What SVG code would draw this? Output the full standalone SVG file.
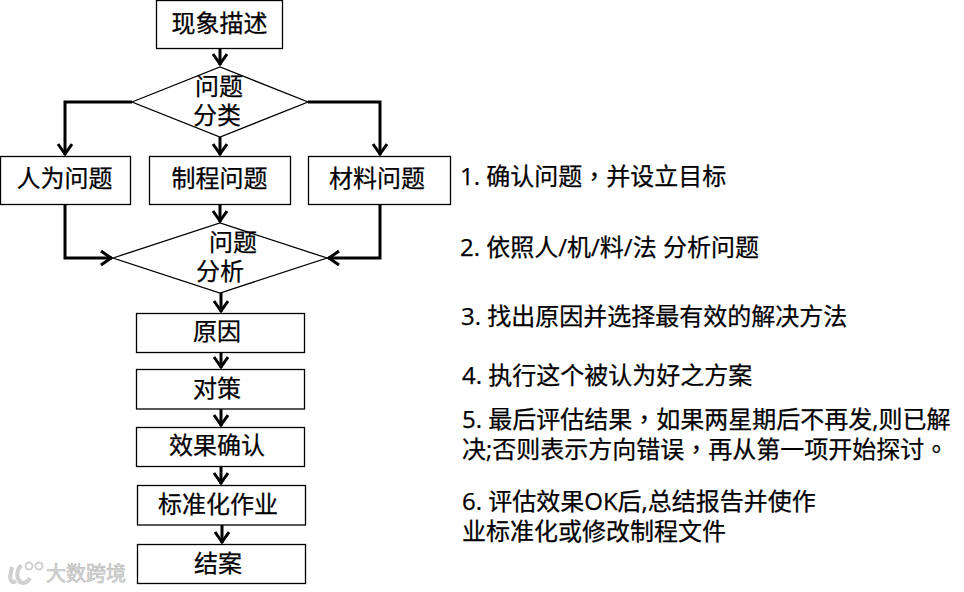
<svg xmlns="http://www.w3.org/2000/svg" width="964" height="592" viewBox="0 0 964 592">
<style>
text{font-family:"Open Sans","Noto Sans CJK SC",sans-serif;font-size:24px;fill:#000;stroke:#000;stroke-width:.25}
.t{font-family:"Noto Sans CJK TC",sans-serif}
.n{fill:#fff;stroke:#000;stroke-width:1.3}
.c{text-anchor:middle}
.k{fill:none;stroke:#000;stroke-width:3}
text.w{font-size:20px;fill:#dadada;stroke:#b8b8b8;stroke-width:.6}
.l{fill:none;stroke:#d0d0d0;stroke-width:4}
</style>
<defs>
<marker id="a" markerUnits="userSpaceOnUse" markerWidth="18" markerHeight="18" refX="14" refY="8" orient="auto">
<path d="M3 1L13 8L3 15" fill="none" stroke="#000" stroke-width="3"/>
</marker>
</defs>
<g id="connectors">
<path class="k" d="M220 48V65" marker-end="url(#a)"/>
<path class="k" d="M132 102H65V155" marker-end="url(#a)"/>
<path class="k" d="M220 137V155" marker-end="url(#a)"/>
<path class="k" d="M308 102H380V155" marker-end="url(#a)"/>
<path class="k" d="M220 205V222" marker-end="url(#a)"/>
<path class="k" d="M65 205V258H112" marker-end="url(#a)"/>
<path class="k" d="M380 205V258H328" marker-end="url(#a)"/>
<path class="k" d="M221 293V312" marker-end="url(#a)"/>
<path class="k" d="M221 352V368" marker-end="url(#a)"/>
<path class="k" d="M221 409V426" marker-end="url(#a)"/>
<path class="k" d="M221 466V484" marker-end="url(#a)"/>
<path class="k" d="M222 525V543" marker-end="url(#a)"/>
</g>
<g id="n1"><rect class="n" x="156.5" y="0.5" width="126" height="48"/><text class="c" x="219.5" y="32">现象描述</text></g>
<g id="n2"><polygon class="n" points="132,102 220,67 308,102 220,137"/><text class="c" x="219" y="95">问题</text><text class="c" x="217" y="124">分类</text></g>
<g id="n3"><rect class="n" x="0.5" y="156.5" width="130" height="48"/><text class="c" x="64.5" y="187">人为问题</text></g>
<g id="n4"><rect class="n" x="149.5" y="156.5" width="141" height="48"/><text class="c" x="219.5" y="187">制程问题</text></g>
<g id="n5"><rect class="n" x="308.5" y="156.5" width="142" height="48"/><text class="c" x="377" y="187">材料问题</text></g>
<g id="n6"><polygon class="n" points="113,258 220,223 327,258 220,293"/><text class="c" x="233" y="251">问题</text><text class="c" x="220" y="280">分析</text></g>
<g id="n7"><rect class="n" x="136.5" y="313.5" width="168" height="39"/><text class="c" x="217" y="340">原因</text></g>
<g id="n8"><rect class="n" x="136.5" y="369.5" width="168" height="39.5"/><text class="c" x="217" y="397">对策</text></g>
<g id="n9"><rect class="n" x="136.5" y="427.5" width="168" height="39"/><text class="c" x="217" y="454">效果确认</text></g>
<g id="n10"><rect class="n" x="137.5" y="485.5" width="168" height="39.5"/><text class="c" x="218" y="513">标准化作业</text></g>
<g id="n11"><rect class="n" x="137.5" y="544.5" width="168" height="39"/><text class="c" x="218" y="572">结案</text></g>
<g id="notes">
<text x="460" y="185">1. 确认问题<tspan class="t">，</tspan>并设立目标</text>
<text x="460" y="256">2. 依照人/机/料/法 分析问题</text>
<text x="461" y="325">3. 找出原因并选择最有效的解决方法</text>
<text x="462" y="384">4. 执行这个被认为好之方案</text>
<text x="462" y="428">5. 最后评估结果<tspan class="t">，</tspan>如果两星期后不再发,则已解</text>
<text x="462" y="458">决;否则表示方向错误<tspan class="t">，</tspan>再从第一项开始探讨<tspan class="t">。</tspan></text>
<text x="462" y="510">6. 评估效果OK后,总结报告并使作</text>
<text x="462" y="540">业标准化或修改制程文件</text>
</g>
<g id="watermark">
<path class="l" d="M12 567L10 577Q11 584 16 581M21 565Q14 574 20 582Q26 585 30 578"/>
<circle class="l" cx="29" cy="566" r="3.5" style="stroke-width:2"/><circle class="l" cx="39" cy="566" r="3.5" style="stroke-width:2"/>
<text class="w" x="46" y="581">大数跨境</text>
</g>
</svg>
